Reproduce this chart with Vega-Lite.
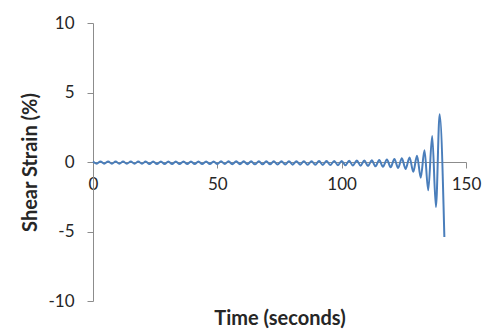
{
  "$schema": "https://vega.github.io/schema/vega-lite/v6.json",
  "width": 373,
  "height": 278,
  "autosize": {"type": "none"},
  "padding": {"left": 93, "top": 23, "right": 35, "bottom": 34},
  "background": "white",
  "config": {"view": {"stroke": null}, "font": "Lato"},
  "data": {"values": [
    {"t": 0, "v": 0.03}, {"t": 1.5, "v": -0.12}, {"t": 3.0, "v": 0.04}, {"t": 4.5, "v": -0.12},
    {"t": 6.1, "v": 0.04}, {"t": 7.6, "v": -0.13}, {"t": 9.1, "v": 0.04}, {"t": 10.6, "v": -0.13},
    {"t": 12.1, "v": 0.04}, {"t": 13.6, "v": -0.13}, {"t": 15.2, "v": 0.04}, {"t": 16.7, "v": -0.13},
    {"t": 18.2, "v": 0.04}, {"t": 19.7, "v": -0.13}, {"t": 21.2, "v": 0.04}, {"t": 22.7, "v": -0.14},
    {"t": 24.2, "v": 0.04}, {"t": 25.7, "v": -0.14}, {"t": 27.3, "v": 0.04}, {"t": 28.8, "v": -0.14},
    {"t": 30.3, "v": 0.04}, {"t": 31.8, "v": -0.14}, {"t": 33.3, "v": 0.04}, {"t": 34.8, "v": -0.14},
    {"t": 36.4, "v": 0.04}, {"t": 37.9, "v": -0.14}, {"t": 39.4, "v": 0.04}, {"t": 40.9, "v": -0.15},
    {"t": 42.4, "v": 0.04}, {"t": 43.9, "v": -0.15}, {"t": 45.5, "v": 0.04}, {"t": 47.0, "v": -0.15},
    {"t": 48.5, "v": 0.04}, {"t": 50.0, "v": -0.15}, {"t": 51.5, "v": 0.05}, {"t": 53.0, "v": -0.15},
    {"t": 54.5, "v": 0.05}, {"t": 56.0, "v": -0.16}, {"t": 57.6, "v": 0.05}, {"t": 59.1, "v": -0.16},
    {"t": 60.6, "v": 0.05}, {"t": 62.1, "v": -0.16}, {"t": 63.6, "v": 0.05}, {"t": 65.1, "v": -0.17},
    {"t": 66.7, "v": 0.05}, {"t": 68.2, "v": -0.17}, {"t": 69.7, "v": 0.05}, {"t": 71.2, "v": -0.17},
    {"t": 72.7, "v": 0.05}, {"t": 74.2, "v": -0.18}, {"t": 75.8, "v": 0.05}, {"t": 77.3, "v": -0.18},
    {"t": 78.8, "v": 0.06}, {"t": 80.3, "v": -0.19}, {"t": 81.8, "v": 0.06}, {"t": 83.3, "v": -0.19},
    {"t": 84.8, "v": 0.06}, {"t": 86.3, "v": -0.2}, {"t": 87.9, "v": 0.06}, {"t": 89.4, "v": -0.2},
    {"t": 90.9, "v": 0.07}, {"t": 92.4, "v": -0.21}, {"t": 93.9, "v": 0.07}, {"t": 95.4, "v": -0.22},
    {"t": 97.0, "v": 0.08}, {"t": 98.5, "v": -0.23}, {"t": 100.0, "v": 0.08}, {"t": 101.5, "v": -0.24},
    {"t": 103.0, "v": 0.09}, {"t": 104.5, "v": -0.25}, {"t": 106.1, "v": 0.1}, {"t": 107.6, "v": -0.27},
    {"t": 109.1, "v": 0.11}, {"t": 110.6, "v": -0.29}, {"t": 112.1, "v": 0.13}, {"t": 113.6, "v": -0.31},
    {"t": 115.1, "v": 0.15}, {"t": 116.6, "v": -0.34}, {"t": 118.2, "v": 0.18}, {"t": 119.7, "v": -0.38},
    {"t": 121.2, "v": 0.22}, {"t": 122.7, "v": -0.43}, {"t": 124.2, "v": 0.27}, {"t": 125.7, "v": -0.5},
    {"t": 127.3, "v": 0.33}, {"t": 128.8, "v": -0.7}, {"t": 130.3, "v": 0.45}, {"t": 131.8, "v": -1.13},
    {"t": 133.3, "v": 0.85}, {"t": 134.8, "v": -2.04}, {"t": 136.4, "v": 1.87}, {"t": 137.9, "v": -3.24},
    {"t": 139.4, "v": 3.43}, {"t": 141.3, "v": -5.4}
  ]},
  "mark": {"type": "line", "interpolate": "monotone", "color": "#4A7EBB", "strokeWidth": 2},
  "encoding": {
    "x": {
      "field": "t", "type": "quantitative",
      "scale": {"domain": [0, 150], "nice": false, "zero": false},
      "axis": {
        "values": [0, 50, 100, 150], "offset": -139, "grid": false,
        "domainColor": "#8c8c8c", "tickColor": "#8c8c8c", "tickSize": 6,
        "labelPadding": 8, "labelFontSize": 17, "labelColor": "#262626", "labelFlush": false, "labelOverlap": false,
        "labelExpr": "'' + datum.value",
        "title": "Time (seconds)", "titleFontSize": 20, "titleFontWeight": "bold", "titleColor": "#262626",
        "titleY": 162, "titleBaseline": "alphabetic"
      }
    },
    "y": {
      "field": "v", "type": "quantitative",
      "scale": {"domain": [-10, 10], "nice": false},
      "axis": {
        "values": [-10, -5, 0, 5, 10], "grid": false,
        "domainColor": "#8c8c8c", "tickColor": "#8c8c8c", "tickSize": 6,
        "labelPadding": 13, "labelFontSize": 17, "labelColor": "#262626", "labelFlush": false, "labelOverlap": false,
        "labelExpr": "'' + datum.value",
        "title": "Shear Strain (%)", "titleFontSize": 20, "titleFontWeight": "bold", "titleColor": "#262626",
        "titleX": -63, "titleY": 139, "titleBaseline": "middle", "titleAlign": "center", "titleAngle": -90
      }
    }
  }
}
